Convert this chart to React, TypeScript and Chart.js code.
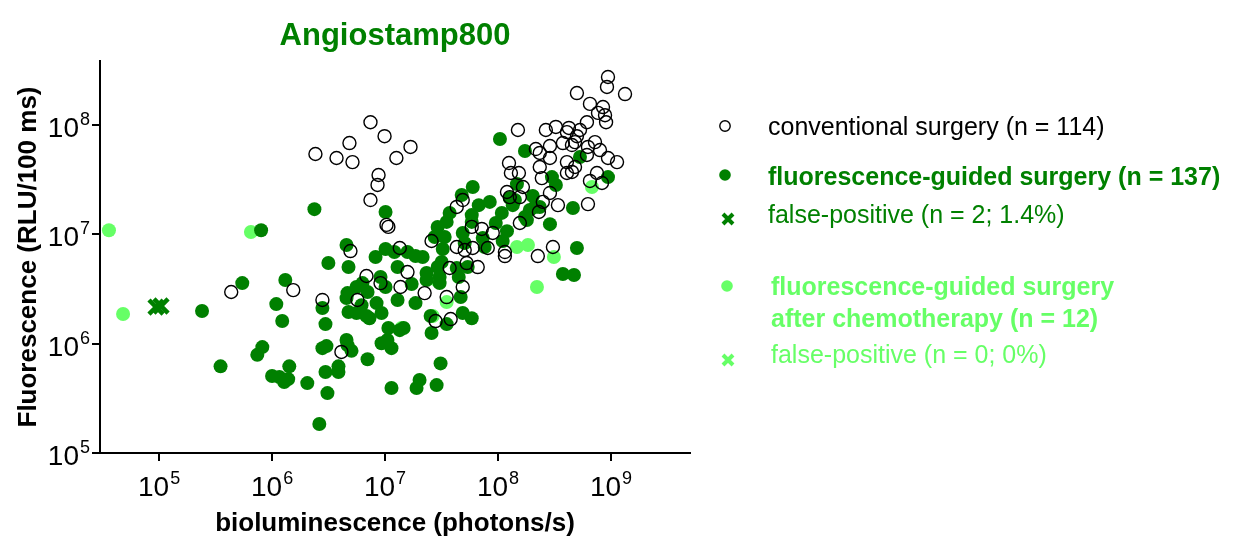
import React, { useEffect, useRef } from 'react';
import { Chart, registerables } from 'chart.js';

Chart.register(...registerables);

const FONT = '"Liberation Sans", Arial, Helvetica, sans-serif';
const DARK = '#008000';
const LIGHT = '#66FF66';

const TITLE = 'Angiostamp800';
const X_TITLE = 'bioluminescence (photons/s)';
const Y_TITLE = 'Fluorescence (RLU/100 ms)';

const xTickValues = [1e5, 1e6, 1e7, 1e8, 1e9];
const xTickExponents = ['5', '6', '7', '8', '9'];
const yTickValues = [1e5, 1e6, 1e7, 1e8];
const yTickExponents = ['5', '6', '7', '8'];

const legendLabels = [
  'conventional surgery (n = 114)',
  'fluorescence-guided surgery (n = 137)',
  'false-positive (n = 2; 1.4%)',
  'fluorescence-guided surgery',
  'after chemotherapy (n = 12)',
  'false-positive (n = 0; 0%)',
];

// conventional surgery (open circles)
const conventionalX = [
  4.35e5, 1.54e6, 2.79e6, 4.11e6, 2.42e6, 3.72e6, 4.84e6, 5.15e6, 7.43e6, 9.9e6,
  1.68e7, 1.26e7, 8.76e6, 8.58e6, 7.43e6, 1.03e7, 1.07e7, 4.94e6, 4.31e7, 4.87e7,
  2.58e7, 1.35e7, 5.85e7, 7.18e7, 4.31e7, 5.07e7, 5.97e7, 3.73e7, 5.28e7, 6.61e7,
  6.85e6, 1.58e7, 9.12e6, 1.37e7, 2.24e7, 4.87e7, 3.51e7, 5.7e6, 2.8e7, 3.81e7,
  9.4e8, 9.21e8, 1.33e9, 4.99e8, 6.51e8, 8.49e8, 7.67e8, 8.85e8, 9.04e8, 6.12e8,
  1.5e8, 2.65e8, 3.25e8, 4.24e8, 5.31e8, 4.07e8, 4.99e8, 4.8e8, 3.75e8, 4.51e8,
  2.88e8, 7.21e8, 6.25e8, 2.16e8, 2.34e8, 7.98e8, 6.12e8, 9.4e8, 1.13e9, 2.88e8,
  4.07e8, 4.8e8, 2.34e8, 4.51e8, 4.07e8, 1.25e8, 1.3e8, 1.53e8, 2.44e8, 7.51e8,
  6.51e8, 8.32e8, 1.66e8, 1.2e8, 1.27e8, 2.88e8, 3.39e8, 6.25e8, 2.49e8, 1.56e8,
  2.3e8, 1.56e8, 8.98e7, 8.11e7, 1.15e8, 1.15e8, 2.25e8, 3.06e8,
];
const conventionalY = [
  2.97e6, 3.09e6, 2.51e6, 8.4e5, 5.43e7, 4.99e7, 6.84e7, 4.58e7, 1.06e8, 7.9e7,
  6.3e7, 4.99e7, 3.49e7, 2.83e7, 2.06e7, 1.22e7, 1.17e7, 7.03e6, 1.78e7, 2.06e7,
  8.69e6, 7.5e6, 1.17e7, 1.12e7, 7.66e6, 7.18e6, 7.5e6, 4.92e6, 5.46e6, 5.02e6,
  4.16e6, 4.52e6, 3.58e6, 3.3e6, 2.9e6, 3.3e6, 2.67e6, 2.51e6, 1.61e6, 1.68e6,
  2.75e8, 2.23e8, 1.92e8, 1.96e8, 1.56e8, 1.46e8, 1.29e8, 1.23e8, 1.06e8, 1.06e8,
  9.0e7, 9.0e7, 9.6e7, 9.4e7, 9.0e7, 8.6e7, 7.9e7, 6.98e7, 6.84e7, 6.56e7,
  6.43e7, 6.98e7, 6.3e7, 6.03e7, 5.55e7, 5.9e7, 5.32e7, 4.99e7, 4.58e7, 4.99e7,
  4.58e7, 4.13e7, 4.13e7, 3.72e7, 3.64e7, 4.49e7, 3.64e7, 3.64e7, 3.27e7, 3.64e7,
  3.08e7, 2.95e7, 2.71e7, 2.44e7, 2.19e7, 2.39e7, 1.85e7, 1.89e7, 1.98e7, 2.19e7,
  1.6e7, 1.27e7, 1.03e7, 7.5e6, 6.89e6, 6.33e6, 6.33e6, 7.66e6,
];

// fluorescence-guided surgery (dark green)
const guidedX = [
  8.0e5, 2.37e6, 5.45e5, 1.31e6, 1.09e6, 2.4e5, 1.23e6, 8.2e5, 7.4e5, 3.5e5,
  1.42e6, 1.0e6, 1.16e6, 1.28e6, 1.39e6, 2.05e6, 3.15e6, 4.75e6, 4.56e6, 1.01e7,
  5.97e7, 4.77e7, 6.75e7, 8.45e7, 3.73e7, 3.51e7, 2.92e7, 5.85e7, 5.85e7, 2.75e7,
  3.37e7, 4.87e7, 5.07e7, 7.32e7, 7.62e7, 3.24e7, 1.01e7, 1.21e7, 1.58e7, 1.86e7,
  2.15e7, 8.24e6, 1.29e7, 3.17e7, 2.92e7, 4.31e7, 5.39e7, 9.12e6, 2.33e7, 2.33e7,
  3.04e7, 4.49e7, 4.67e7, 1.01e7, 1.72e7, 3.04e7, 6.31e6, 5.59e6, 7.0e6, 4.65e6,
  4.56e6, 1.29e7, 1.86e7, 8.41e6, 6.19e6, 2.79e6, 2.97e6, 4.75e6, 5.59e6, 7.28e6,
  9.31e6, 6.85e6, 1.07e7, 1.35e7, 1.46e7, 9.31e6, 1.05e7, 1.14e7, 7.0e6, 4.56e6,
  4.65e6, 5.05e6, 2.79e6, 3.03e6, 3.87e6, 3.87e6, 2.97e6, 3.09e6, 1.14e7, 2.02e7,
  1.9e7, 2.86e7, 3.1e7, 2.53e7, 2.58e7, 3.51e7, 4.87e7, 5.85e7, 2.62e6,
  1.04e8, 1.73e8, 5.31e8, 3.0e8, 3.25e8, 9.4e8, 1.47e8, 2.03e8, 1.27e8, 1.41e8,
  2.12e8, 2.34e8, 4.6e8, 1.08e8, 1.35e8, 1.91e8, 1.73e8, 1.8e8, 2.88e8, 9.55e7,
  1.2e8, 1.1e8, 4.99e8, 3.75e8, 4.7e8,
];
const guidedY = [
  1.09e7, 1.7e7, 3.58e6, 3.82e6, 2.3e6, 1.99e6, 1.61e6, 9.3e5, 7.9e5, 6.2e5,
  6.2e5, 5.06e5, 4.95e5, 4.45e5, 4.74e5, 4.36e5, 5.46e6, 5.02e6, 7.98e6, 1.6e7,
  2.71e7, 2.29e7, 1.85e7, 1.98e7, 1.57e7, 1.3e7, 1.17e7, 1.5e7, 1.3e7, 9.45e6,
  9.45e6, 1.03e7, 8.32e6, 9.25e6, 7.66e6, 7.34e6, 7.34e6, 6.89e6, 6.89e6, 6.33e6,
  6.2e6, 6.2e6, 5.02e6, 5.58e6, 5.02e6, 4.92e6, 5.02e6, 4.07e6, 4.43e6, 3.82e6,
  4.07e6, 4.07e6, 2.67e6, 3.3e6, 3.51e6, 3.58e6, 3.58e6, 3.3e6, 2.97e6, 2.9e6,
  2.61e6, 2.51e6, 2.35e6, 2.35e6, 2.25e6, 2.12e6, 1.51e6, 1.95e6, 1.91e6, 1.71e6,
  1.91e6, 1.79e6, 1.39e6, 1.33e6, 1.39e6, 1.01e6, 1.08e6, 9.1e5, 7.2e5, 1.08e6,
  9.7e5, 8.6e5, 9.1e5, 9.5e5, 6.2e5, 5.5e5, 5.5e5, 3.53e5, 3.93e5, 4.65e5,
  3.93e5, 4.18e5, 6.6e5, 1.79e6, 1.25e6, 1.51e6, 1.91e6, 1.71e6, 1.84e5,
  7.45e7, 5.78e7, 5.1e7, 3.34e7, 2.83e7, 3.34e7, 2.88e7, 2.24e7, 2.15e7, 2.06e7,
  1.78e7, 1.78e7, 1.74e7, 1.57e7, 1.85e7, 1.67e7, 1.44e7, 1.35e7, 1.24e7, 1.27e7,
  1.07e7, 8.69e6, 7.5e6, 4.34e6, 4.25e6,
];

// fluorescence-guided surgery after chemotherapy (light green)
const chemoX = [3.6e4, 4.8e4, 6.5e5, 2.86e7, 3.51e7, 2.64e7, 1.47e8, 1.84e8, 3.12e8, 2.21e8, 6.78e8, 1.4e7];
const chemoY = [1.09e7, 1.87e6, 1.05e7, 3.82e6, 2.4e6, 1.79e6, 7.66e6, 7.98e6, 6.2e6, 3.3e6, 2.71e7, 1.39e6];

// false-positive (fluorescence-guided surgery)
const falsePosX = [9.4e4, 1.04e5];
const falsePosY = [2.16e6, 2.21e6];

// false-positive after chemotherapy (none)
const falsePosChemoX: number[] = [];
const falsePosChemoY: number[] = [];

const toPoints = (xs: number[], ys: number[]) => xs.map((x, i) => ({ x, y: ys[i] }));

function drawPower(ctx: CanvasRenderingContext2D, exp: string, x: number, baseline: number, align: 'center' | 'right') {
  ctx.textAlign = 'left';
  ctx.textBaseline = 'alphabetic';
  ctx.font = `28px ${FONT}`;
  const wBase = ctx.measureText('10').width;
  ctx.font = `18px ${FONT}`;
  const wExp = ctx.measureText(exp).width;
  const total = wBase + 1 + wExp;
  const start = align === 'center' ? x - total / 2 : x - total;
  ctx.font = `28px ${FONT}`;
  ctx.fillText('10', start, baseline);
  ctx.font = `18px ${FONT}`;
  ctx.fillText(exp, start + wBase + 1, baseline - 12);
}

function drawCross(ctx: CanvasRenderingContext2D, cx: number, cy: number, h: number, color: string, w: number) {
  ctx.strokeStyle = color;
  ctx.lineWidth = w;
  ctx.beginPath();
  ctx.moveTo(cx - h, cy - h);
  ctx.lineTo(cx + h, cy + h);
  ctx.moveTo(cx + h, cy - h);
  ctx.lineTo(cx - h, cy + h);
  ctx.stroke();
}

const overlayPlugin = {
  id: 'overlay',
  afterDraw(chart: any) {
    const ctx: CanvasRenderingContext2D = chart.ctx;
    const xs = chart.scales.x;
    const ys = chart.scales.y;
    const area = chart.chartArea;
    ctx.save();
    // title
    ctx.fillStyle = DARK;
    ctx.font = `bold 31px ${FONT}`;
    ctx.textAlign = 'center';
    ctx.textBaseline = 'alphabetic';
    ctx.fillText(TITLE, (area.left + area.right) / 2, 45);

    // tick labels
    ctx.fillStyle = '#000';
    xTickValues.forEach((v, i) => {
      drawPower(ctx, xTickExponents[i], xs.getPixelForValue(v), area.bottom + 43, 'center');
    });
    yTickValues.forEach((v, i) => {
      drawPower(ctx, yTickExponents[i], area.left - 10, ys.getPixelForValue(v) + 12, 'right');
    });

    // legend
    const lx = 725;
    // 1 conventional
    ctx.strokeStyle = '#000';
    ctx.lineWidth = 1.4;
    ctx.beginPath();
    ctx.arc(lx, 126, 5.2, 0, Math.PI * 2);
    ctx.stroke();
    ctx.fillStyle = '#000';
    ctx.font = `25px ${FONT}`;
    ctx.textAlign = 'left';
    ctx.fillText(legendLabels[0], 768, 135);
    // 2 guided
    ctx.fillStyle = DARK;
    ctx.beginPath();
    ctx.arc(lx, 175, 5.8, 0, Math.PI * 2);
    ctx.fill();
    ctx.font = `bold 25px ${FONT}`;
    ctx.fillText(legendLabels[1], 768, 185);
    // 3 false positive
    drawCross(ctx, 728, 219, 5, DARK, 4);
    ctx.fillStyle = DARK;
    ctx.font = `25px ${FONT}`;
    ctx.fillText(legendLabels[2], 768, 223);
    // 4 chemo
    ctx.fillStyle = LIGHT;
    ctx.beginPath();
    ctx.arc(727, 286, 5.8, 0, Math.PI * 2);
    ctx.fill();
    ctx.font = `bold 25px ${FONT}`;
    ctx.fillText(legendLabels[3], 771, 295);
    ctx.fillText(legendLabels[4], 771, 327);
    // 5 false positive chemo
    drawCross(ctx, 728, 360, 5, LIGHT, 4);
    ctx.fillStyle = LIGHT;
    ctx.font = `25px ${FONT}`;
    ctx.fillText(legendLabels[5], 771, 363);
    ctx.restore();
  },
};

export default function App() {
  const ref = useRef<HTMLCanvasElement>(null);
  useEffect(() => {
    document.body.style.margin = '0';
    const axisGrid = {
      display: true,
      drawOnChartArea: false,
      drawTicks: true,
      tickLength: 8,
      color: '#000',
      lineWidth: 2,
    };
    const chart = new Chart(ref.current as HTMLCanvasElement, {
      type: 'scatter',
      data: {
        datasets: [
          {
            label: 'false-positive (n = 0; 0%)',
            data: toPoints(falsePosChemoX, falsePosChemoY),
            pointStyle: 'crossRot',
            pointRadius: 10,
            borderColor: LIGHT,
            borderWidth: 4.5,
            order: 0,
          },
          {
            label: 'false-positive (n = 2; 1.4%)',
            data: toPoints(falsePosX, falsePosY),
            pointStyle: 'crossRot',
            pointRadius: 10,
            borderColor: DARK,
            borderWidth: 4.5,
            order: 0,
          },
          {
            label: 'conventional surgery (n = 114)',
            data: toPoints(conventionalX, conventionalY),
            pointStyle: 'circle',
            pointRadius: 6.5,
            backgroundColor: 'rgba(0,0,0,0)',
            borderColor: '#000',
            borderWidth: 1.4,
            order: 1,
          },
          {
            label: 'fluorescence-guided surgery (n = 137)',
            data: toPoints(guidedX, guidedY),
            pointStyle: 'circle',
            pointRadius: 7,
            backgroundColor: DARK,
            borderWidth: 0,
            order: 2,
          },
          {
            label: 'fluorescence-guided surgery after chemotherapy (n = 12)',
            data: toPoints(chemoX, chemoY),
            pointStyle: 'circle',
            pointRadius: 7,
            backgroundColor: LIGHT,
            borderWidth: 0,
            order: 3,
          },
        ],
      },
      options: {
        responsive: false,
        animation: false,
        events: [],
        layout: { padding: { left: 0, top: 61, right: 551, bottom: 0 } },
        plugins: {
          legend: { display: false },
          tooltip: { enabled: false },
          title: { display: false },
        },
        scales: {
          x: {
            type: 'logarithmic',
            min: 3e4,
            max: 5e9,
            afterBuildTicks: (s: any) => {
              s.ticks = xTickValues.map((v) => ({ value: v, major: true }));
            },
            afterFit: (s: any) => {
              s.height = 86;
            },
            ticks: { callback: () => '', autoSkip: false },
            grid: axisGrid,
            border: { display: true, color: '#000', width: 2 },
            title: {
              display: true,
              text: X_TITLE,
              color: '#000',
              font: { family: FONT, size: 26, weight: 'bold' },
              padding: { top: 0, bottom: 0 },
            },
          },
          y: {
            type: 'logarithmic',
            min: 1e5,
            max: 3.85e8,
            afterBuildTicks: (s: any) => {
              s.ticks = yTickValues.map((v) => ({ value: v, major: true }));
            },
            afterFit: (s: any) => {
              s.width = 100;
            },
            ticks: { callback: () => '', autoSkip: false },
            grid: axisGrid,
            border: { display: true, color: '#000', width: 2 },
            title: {
              display: true,
              text: Y_TITLE,
              color: '#000',
              font: { family: FONT, size: 26, weight: 'bold' },
              padding: { top: 13, bottom: 0 },
            },
          },
        },
      },
      plugins: [overlayPlugin],
    } as any);
    return () => chart.destroy();
  }, []);
  return (
    <div style={{ width: 1241, height: 539 }}>
      <canvas ref={ref} width={1241} height={539} style={{ display: 'block' }} />
    </div>
  );
}
